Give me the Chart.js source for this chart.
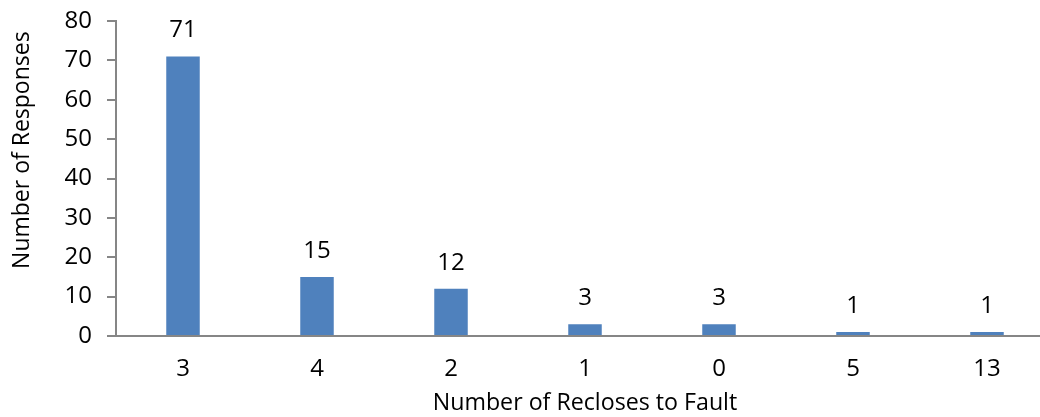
<!DOCTYPE html>
<html>
<head>
<meta charset="utf-8">
<script src="https://cdn.jsdelivr.net/npm/chart.js@4/dist/chart.umd.min.js"></script>
<style>
  html, body { margin: 0; padding: 0; background: #ffffff; overflow: hidden; }
  #wrap { position: relative; width: 1054px; height: 417px; }
</style>
</head>
<body>
<div id="wrap"><canvas id="c" width="1054" height="417"></canvas></div>
<script>
const categories = ["3", "4", "2", "1", "0", "5", "13"];
const responses = [71, 15, 12, 3, 3, 1, 1];
const yTicks = [0, 10, 20, 30, 40, 50, 60, 70, 80];
const xTitle = "Number of Recloses to Fault";
const yTitle = "Number of Responses";

const FONT = "'Open Sans', 'Liberation Sans', sans-serif";
const AXIS = "#868686";

const valueLabels = {
  id: "valueLabels",
  afterDatasetsDraw(chart) {
    const ctx = chart.ctx;
    const meta = chart.getDatasetMeta(0);
    ctx.save();
    ctx.font = "24px " + FONT;
    ctx.fillStyle = "#000000";
    ctx.textAlign = "center";
    ctx.textBaseline = "alphabetic";
    meta.data.forEach((bar, i) => {
      ctx.fillText(String(chart.data.datasets[0].data[i]), bar.x, bar.y - 19);
    });
    ctx.restore();
  }
};

const yTitlePlugin = {
  id: "yTitlePlugin",
  afterDraw(chart) {
    const ctx = chart.ctx;
    ctx.save();
    ctx.font = "23px " + FONT;
    ctx.fillStyle = "#000000";
    ctx.textAlign = "center";
    ctx.textBaseline = "middle";
    ctx.translate(22, chart.chartArea.top + (chart.chartArea.bottom - chart.chartArea.top) * 0.41);
    ctx.rotate(-Math.PI / 2);
    ctx.fillText(yTitle, 0, 0);
    ctx.restore();
  }
};

new Chart(document.getElementById("c"), {
  type: "bar",
  data: {
    labels: categories,
    datasets: [{
      data: responses,
      backgroundColor: "#4F81BD",
      borderWidth: 0,
      barPercentage: 0.25,
      categoryPercentage: 1.0
    }]
  },
  options: {
    responsive: false,
    animation: false,
    events: [],
    layout: { padding: { top: 21, left: 0, right: 0, bottom: 0 } },
    plugins: { legend: { display: false }, tooltip: { enabled: false } },
    scales: {
      x: {
        grid: { display: true, drawOnChartArea: false, drawTicks: false },
        border: { display: true, color: AXIS, width: 2 },
        ticks: { color: "#000", font: { family: FONT, size: 24 }, padding: 19, maxRotation: 0 },
        title: { display: true, text: xTitle, color: "#000", font: { family: FONT, size: 23.2 }, padding: { top: 0, bottom: 0 } },
        afterFit(scale) { scale.height = 81; }
      },
      y: {
        min: 0, max: 80,
        afterBuildTicks(scale) { scale.ticks = yTicks.map(v => ({ value: v })); },
        grid: { display: true, drawOnChartArea: false, drawTicks: true, tickLength: 9, color: AXIS, lineWidth: 2 },
        border: { display: true, color: AXIS, width: 2 },
        ticks: { color: "#000", font: { family: FONT, size: 24 }, padding: 15 },
        title: { display: false },
        afterFit(scale) { scale.width = 116; scale.paddingTop = 0; scale.paddingBottom = 0; }
      }
    }
  },
  plugins: [valueLabels, yTitlePlugin]
});
</script>
</body>
</html>
